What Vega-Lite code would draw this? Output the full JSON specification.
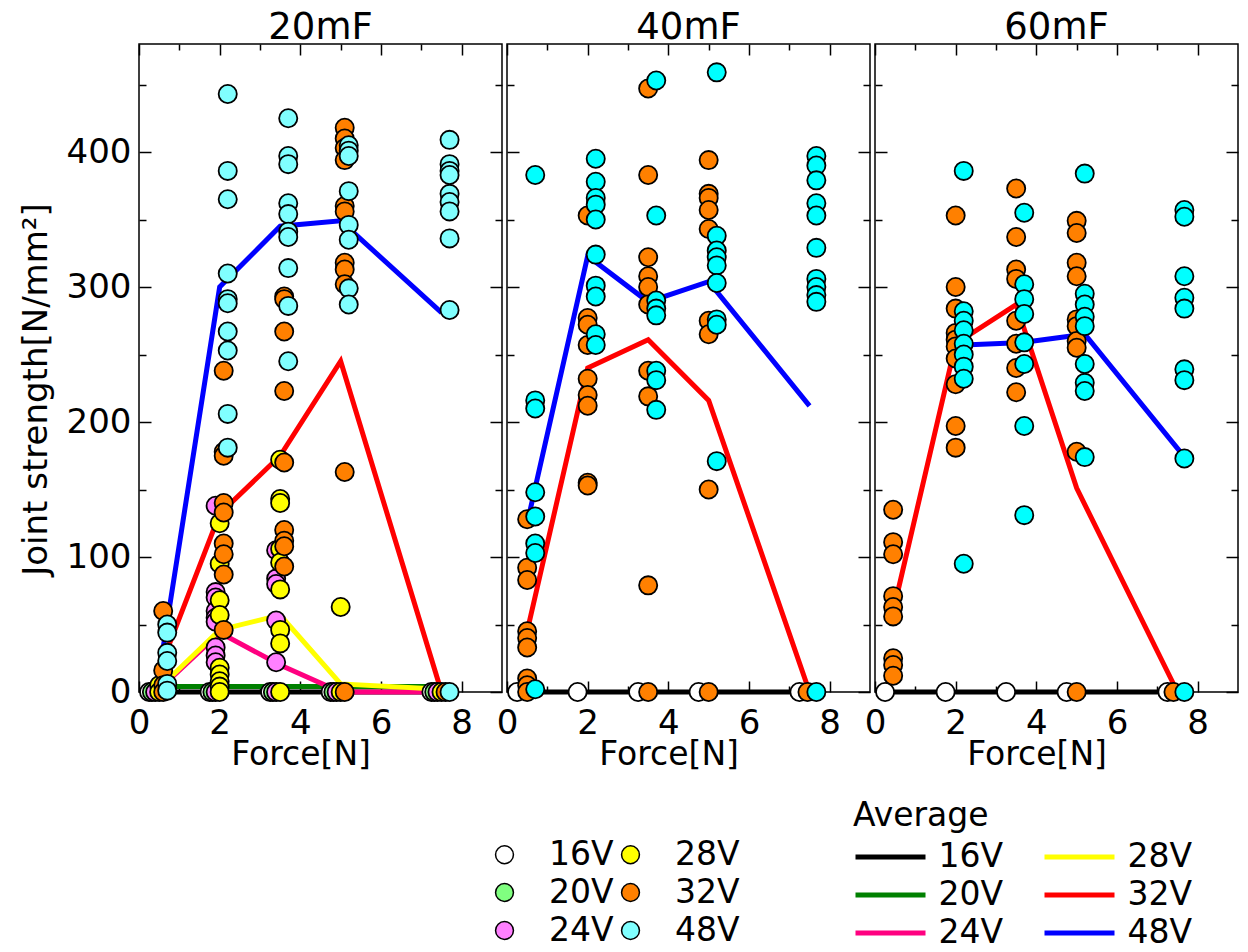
{
  "$schema": "https://vega.github.io/schema/vega-lite/v6.json",
  "padding": {"left": 18, "top": 8, "right": 5, "bottom": 5},
  "bounds": "flush",
  "spacing": 5,
  "datasets": {
    "avg": [
      {"panel":"20mF","voltage":"16V","force":0.25,"strength":0},{"panel":"20mF","voltage":"16V","force":1.75,"strength":0},{"panel":"20mF","voltage":"16V","force":3.25,"strength":0},{"panel":"20mF","voltage":"16V","force":4.75,"strength":0},{"panel":"20mF","voltage":"16V","force":7.25,"strength":0},
      {"panel":"20mF","voltage":"20V","force":0.5,"strength":4},{"panel":"20mF","voltage":"20V","force":2,"strength":4},{"panel":"20mF","voltage":"20V","force":3.5,"strength":4},{"panel":"20mF","voltage":"20V","force":5,"strength":4},{"panel":"20mF","voltage":"20V","force":7.5,"strength":4},
      {"panel":"20mF","voltage":"24V","force":0.5,"strength":2},{"panel":"20mF","voltage":"24V","force":2,"strength":44},{"panel":"20mF","voltage":"24V","force":3.5,"strength":20},{"panel":"20mF","voltage":"24V","force":5,"strength":0},{"panel":"20mF","voltage":"24V","force":7.5,"strength":0},
      {"panel":"20mF","voltage":"28V","force":0.5,"strength":3},{"panel":"20mF","voltage":"28V","force":2,"strength":46},{"panel":"20mF","voltage":"28V","force":3.5,"strength":57},{"panel":"20mF","voltage":"28V","force":5,"strength":6},{"panel":"20mF","voltage":"28V","force":7.5,"strength":2},
      {"panel":"20mF","voltage":"32V","force":0.5,"strength":16},{"panel":"20mF","voltage":"32V","force":2,"strength":132},{"panel":"20mF","voltage":"32V","force":3.5,"strength":175},{"panel":"20mF","voltage":"32V","force":5,"strength":245},{"panel":"20mF","voltage":"32V","force":7.5,"strength":0},
      {"panel":"20mF","voltage":"48V","force":0.5,"strength":14},{"panel":"20mF","voltage":"48V","force":2,"strength":300},{"panel":"20mF","voltage":"48V","force":3.5,"strength":345},{"panel":"20mF","voltage":"48V","force":5,"strength":349},{"panel":"20mF","voltage":"48V","force":7.5,"strength":281},
      {"panel":"40mF","voltage":"16V","force":0.25,"strength":0},{"panel":"40mF","voltage":"16V","force":1.75,"strength":0},{"panel":"40mF","voltage":"16V","force":3.25,"strength":0},{"panel":"40mF","voltage":"16V","force":4.75,"strength":0},{"panel":"40mF","voltage":"16V","force":7.25,"strength":0},
      {"panel":"40mF","voltage":"32V","force":0.5,"strength":45},{"panel":"40mF","voltage":"32V","force":2,"strength":240},{"panel":"40mF","voltage":"32V","force":3.5,"strength":261},{"panel":"40mF","voltage":"32V","force":5,"strength":216},{"panel":"40mF","voltage":"32V","force":7.5,"strength":0},
      {"panel":"40mF","voltage":"48V","force":0.5,"strength":125},{"panel":"40mF","voltage":"48V","force":2,"strength":323},{"panel":"40mF","voltage":"48V","force":3.5,"strength":289},{"panel":"40mF","voltage":"48V","force":5,"strength":304},{"panel":"40mF","voltage":"48V","force":7.5,"strength":212},
      {"panel":"60mF","voltage":"16V","force":0.25,"strength":0},{"panel":"60mF","voltage":"16V","force":1.75,"strength":0},{"panel":"60mF","voltage":"16V","force":3.25,"strength":0},{"panel":"60mF","voltage":"16V","force":4.75,"strength":0},{"panel":"60mF","voltage":"16V","force":7.25,"strength":0},
      {"panel":"60mF","voltage":"32V","force":0.5,"strength":66},{"panel":"60mF","voltage":"32V","force":2,"strength":258},{"panel":"60mF","voltage":"32V","force":3.5,"strength":287},{"panel":"60mF","voltage":"32V","force":5,"strength":151},{"panel":"60mF","voltage":"32V","force":7.5,"strength":0},
      {"panel":"60mF","voltage":"48V","force":2.2,"strength":257},{"panel":"60mF","voltage":"48V","force":3.7,"strength":259},{"panel":"60mF","voltage":"48V","force":5.2,"strength":265},{"panel":"60mF","voltage":"48V","force":7.7,"strength":173}
    ],
    "pts": [
      {"panel":"20mF","volt":"16V","force":0.25,"strength":0},{"panel":"20mF","volt":"16V","force":1.75,"strength":0},{"panel":"20mF","volt":"16V","force":3.25,"strength":0},{"panel":"20mF","volt":"16V","force":4.75,"strength":0},{"panel":"20mF","volt":"16V","force":7.25,"strength":0},
      {"panel":"20mF","volt":"20V","force":0.32,"strength":0},{"panel":"20mF","volt":"20V","force":1.82,"strength":0},{"panel":"20mF","volt":"20V","force":3.32,"strength":0},{"panel":"20mF","volt":"20V","force":4.82,"strength":0},{"panel":"20mF","volt":"20V","force":7.32,"strength":0},
      {"panel":"20mF","volt":"24V","force":0.4,"strength":0},
      {"panel":"20mF","volt":"24V","force":1.9,"strength":138},{"panel":"20mF","volt":"24V","force":1.9,"strength":74},{"panel":"20mF","volt":"24V","force":1.9,"strength":70},{"panel":"20mF","volt":"24V","force":1.9,"strength":60},{"panel":"20mF","volt":"24V","force":1.9,"strength":55},{"panel":"20mF","volt":"24V","force":1.9,"strength":52},{"panel":"20mF","volt":"24V","force":1.9,"strength":33},{"panel":"20mF","volt":"24V","force":1.9,"strength":27},{"panel":"20mF","volt":"24V","force":1.9,"strength":22},{"panel":"20mF","volt":"24V","force":1.9,"strength":0},
      {"panel":"20mF","volt":"24V","force":3.4,"strength":105},{"panel":"20mF","volt":"24V","force":3.4,"strength":84},{"panel":"20mF","volt":"24V","force":3.4,"strength":80},{"panel":"20mF","volt":"24V","force":3.4,"strength":53},{"panel":"20mF","volt":"24V","force":3.4,"strength":22},{"panel":"20mF","volt":"24V","force":3.4,"strength":0},
      {"panel":"20mF","volt":"24V","force":4.9,"strength":0},{"panel":"20mF","volt":"24V","force":7.4,"strength":0},
      {"panel":"20mF","volt":"28V","force":0.5,"strength":5},{"panel":"20mF","volt":"28V","force":0.5,"strength":0},
      {"panel":"20mF","volt":"28V","force":2.0,"strength":125},{"panel":"20mF","volt":"28V","force":2.0,"strength":95},{"panel":"20mF","volt":"28V","force":2.0,"strength":68},{"panel":"20mF","volt":"28V","force":2.0,"strength":57},{"panel":"20mF","volt":"28V","force":2.0,"strength":18},{"panel":"20mF","volt":"28V","force":2.0,"strength":13},{"panel":"20mF","volt":"28V","force":2.0,"strength":8},{"panel":"20mF","volt":"28V","force":2.0,"strength":4},{"panel":"20mF","volt":"28V","force":2.0,"strength":0},
      {"panel":"20mF","volt":"28V","force":3.5,"strength":172},{"panel":"20mF","volt":"28V","force":3.5,"strength":143},{"panel":"20mF","volt":"28V","force":3.5,"strength":140},{"panel":"20mF","volt":"28V","force":3.5,"strength":106},{"panel":"20mF","volt":"28V","force":3.5,"strength":96},{"panel":"20mF","volt":"28V","force":3.5,"strength":76},{"panel":"20mF","volt":"28V","force":3.5,"strength":46},{"panel":"20mF","volt":"28V","force":3.5,"strength":36},{"panel":"20mF","volt":"28V","force":3.5,"strength":0},
      {"panel":"20mF","volt":"28V","force":5.0,"strength":63},{"panel":"20mF","volt":"28V","force":5.0,"strength":0},{"panel":"20mF","volt":"28V","force":7.5,"strength":0},
      {"panel":"20mF","volt":"32V","force":0.6,"strength":60},{"panel":"20mF","volt":"32V","force":0.6,"strength":16},{"panel":"20mF","volt":"32V","force":0.6,"strength":5},{"panel":"20mF","volt":"32V","force":0.6,"strength":0},
      {"panel":"20mF","volt":"32V","force":2.1,"strength":238},{"panel":"20mF","volt":"32V","force":2.1,"strength":178},{"panel":"20mF","volt":"32V","force":2.1,"strength":175},{"panel":"20mF","volt":"32V","force":2.1,"strength":140},{"panel":"20mF","volt":"32V","force":2.1,"strength":133},{"panel":"20mF","volt":"32V","force":2.1,"strength":110},{"panel":"20mF","volt":"32V","force":2.1,"strength":102},{"panel":"20mF","volt":"32V","force":2.1,"strength":87},{"panel":"20mF","volt":"32V","force":2.1,"strength":46},
      {"panel":"20mF","volt":"32V","force":3.6,"strength":293},{"panel":"20mF","volt":"32V","force":3.6,"strength":291},{"panel":"20mF","volt":"32V","force":3.6,"strength":267},{"panel":"20mF","volt":"32V","force":3.6,"strength":223},{"panel":"20mF","volt":"32V","force":3.6,"strength":170},{"panel":"20mF","volt":"32V","force":3.6,"strength":120},{"panel":"20mF","volt":"32V","force":3.6,"strength":112},{"panel":"20mF","volt":"32V","force":3.6,"strength":108},{"panel":"20mF","volt":"32V","force":3.6,"strength":93},
      {"panel":"20mF","volt":"32V","force":5.1,"strength":418},{"panel":"20mF","volt":"32V","force":5.1,"strength":410},{"panel":"20mF","volt":"32V","force":5.1,"strength":403},{"panel":"20mF","volt":"32V","force":5.1,"strength":394},{"panel":"20mF","volt":"32V","force":5.1,"strength":360},{"panel":"20mF","volt":"32V","force":5.1,"strength":356},{"panel":"20mF","volt":"32V","force":5.1,"strength":318},{"panel":"20mF","volt":"32V","force":5.1,"strength":313},{"panel":"20mF","volt":"32V","force":5.1,"strength":302},{"panel":"20mF","volt":"32V","force":5.1,"strength":163},{"panel":"20mF","volt":"32V","force":5.1,"strength":0},
      {"panel":"20mF","volt":"32V","force":7.6,"strength":0},
      {"panel":"20mF","volt":"48V","force":0.7,"strength":50},{"panel":"20mF","volt":"48V","force":0.7,"strength":44},{"panel":"20mF","volt":"48V","force":0.7,"strength":29},{"panel":"20mF","volt":"48V","force":0.7,"strength":23},{"panel":"20mF","volt":"48V","force":0.7,"strength":6},{"panel":"20mF","volt":"48V","force":0.7,"strength":1},
      {"panel":"20mF","volt":"48V","force":2.2,"strength":443},{"panel":"20mF","volt":"48V","force":2.2,"strength":386},{"panel":"20mF","volt":"48V","force":2.2,"strength":365},{"panel":"20mF","volt":"48V","force":2.2,"strength":310},{"panel":"20mF","volt":"48V","force":2.2,"strength":291},{"panel":"20mF","volt":"48V","force":2.2,"strength":288},{"panel":"20mF","volt":"48V","force":2.2,"strength":267},{"panel":"20mF","volt":"48V","force":2.2,"strength":253},{"panel":"20mF","volt":"48V","force":2.2,"strength":206},{"panel":"20mF","volt":"48V","force":2.2,"strength":181},
      {"panel":"20mF","volt":"48V","force":3.7,"strength":425},{"panel":"20mF","volt":"48V","force":3.7,"strength":397},{"panel":"20mF","volt":"48V","force":3.7,"strength":391},{"panel":"20mF","volt":"48V","force":3.7,"strength":362},{"panel":"20mF","volt":"48V","force":3.7,"strength":354},{"panel":"20mF","volt":"48V","force":3.7,"strength":341},{"panel":"20mF","volt":"48V","force":3.7,"strength":337},{"panel":"20mF","volt":"48V","force":3.7,"strength":314},{"panel":"20mF","volt":"48V","force":3.7,"strength":286},{"panel":"20mF","volt":"48V","force":3.7,"strength":245},
      {"panel":"20mF","volt":"48V","force":5.2,"strength":405},{"panel":"20mF","volt":"48V","force":5.2,"strength":401},{"panel":"20mF","volt":"48V","force":5.2,"strength":397},{"panel":"20mF","volt":"48V","force":5.2,"strength":371},{"panel":"20mF","volt":"48V","force":5.2,"strength":346},{"panel":"20mF","volt":"48V","force":5.2,"strength":335},{"panel":"20mF","volt":"48V","force":5.2,"strength":299},{"panel":"20mF","volt":"48V","force":5.2,"strength":287},
      {"panel":"20mF","volt":"48V","force":7.7,"strength":409},{"panel":"20mF","volt":"48V","force":7.7,"strength":391},{"panel":"20mF","volt":"48V","force":7.7,"strength":386},{"panel":"20mF","volt":"48V","force":7.7,"strength":383},{"panel":"20mF","volt":"48V","force":7.7,"strength":369},{"panel":"20mF","volt":"48V","force":7.7,"strength":363},{"panel":"20mF","volt":"48V","force":7.7,"strength":356},{"panel":"20mF","volt":"48V","force":7.7,"strength":336},{"panel":"20mF","volt":"48V","force":7.7,"strength":283},{"panel":"20mF","volt":"48V","force":7.7,"strength":0},

      {"panel":"40mF","volt":"16V","force":0.25,"strength":0},{"panel":"40mF","volt":"16V","force":1.75,"strength":0},{"panel":"40mF","volt":"16V","force":3.25,"strength":0},{"panel":"40mF","volt":"16V","force":4.75,"strength":0},{"panel":"40mF","volt":"16V","force":7.25,"strength":0},
      {"panel":"40mF","volt":"32V","force":0.5,"strength":128},{"panel":"40mF","volt":"32V","force":0.5,"strength":92},{"panel":"40mF","volt":"32V","force":0.5,"strength":83},{"panel":"40mF","volt":"32V","force":0.5,"strength":45},{"panel":"40mF","volt":"32V","force":0.5,"strength":40},{"panel":"40mF","volt":"32V","force":0.5,"strength":33},{"panel":"40mF","volt":"32V","force":0.5,"strength":10},{"panel":"40mF","volt":"32V","force":0.5,"strength":5},{"panel":"40mF","volt":"32V","force":0.5,"strength":0},
      {"panel":"40mF","volt":"32V","force":2.0,"strength":353},{"panel":"40mF","volt":"32V","force":2.0,"strength":277},{"panel":"40mF","volt":"32V","force":2.0,"strength":272},{"panel":"40mF","volt":"32V","force":2.0,"strength":257},{"panel":"40mF","volt":"32V","force":2.0,"strength":232},{"panel":"40mF","volt":"32V","force":2.0,"strength":220},{"panel":"40mF","volt":"32V","force":2.0,"strength":212},{"panel":"40mF","volt":"32V","force":2.0,"strength":155},{"panel":"40mF","volt":"32V","force":2.0,"strength":153},
      {"panel":"40mF","volt":"32V","force":3.5,"strength":447},{"panel":"40mF","volt":"32V","force":3.5,"strength":383},{"panel":"40mF","volt":"32V","force":3.5,"strength":322},{"panel":"40mF","volt":"32V","force":3.5,"strength":308},{"panel":"40mF","volt":"32V","force":3.5,"strength":300},{"panel":"40mF","volt":"32V","force":3.5,"strength":287},{"panel":"40mF","volt":"32V","force":3.5,"strength":238},{"panel":"40mF","volt":"32V","force":3.5,"strength":219},{"panel":"40mF","volt":"32V","force":3.5,"strength":79},{"panel":"40mF","volt":"32V","force":3.5,"strength":0},
      {"panel":"40mF","volt":"32V","force":5.0,"strength":394},{"panel":"40mF","volt":"32V","force":5.0,"strength":369},{"panel":"40mF","volt":"32V","force":5.0,"strength":366},{"panel":"40mF","volt":"32V","force":5.0,"strength":357},{"panel":"40mF","volt":"32V","force":5.0,"strength":343},{"panel":"40mF","volt":"32V","force":5.0,"strength":275},{"panel":"40mF","volt":"32V","force":5.0,"strength":265},{"panel":"40mF","volt":"32V","force":5.0,"strength":150},{"panel":"40mF","volt":"32V","force":5.0,"strength":0},
      {"panel":"40mF","volt":"32V","force":7.45,"strength":0},
      {"panel":"40mF","volt":"48V","force":0.7,"strength":383},{"panel":"40mF","volt":"48V","force":0.7,"strength":216},{"panel":"40mF","volt":"48V","force":0.7,"strength":210},{"panel":"40mF","volt":"48V","force":0.7,"strength":148},{"panel":"40mF","volt":"48V","force":0.7,"strength":130},{"panel":"40mF","volt":"48V","force":0.7,"strength":110},{"panel":"40mF","volt":"48V","force":0.7,"strength":103},{"panel":"40mF","volt":"48V","force":0.7,"strength":2},
      {"panel":"40mF","volt":"48V","force":2.2,"strength":395},{"panel":"40mF","volt":"48V","force":2.2,"strength":378},{"panel":"40mF","volt":"48V","force":2.2,"strength":366},{"panel":"40mF","volt":"48V","force":2.2,"strength":361},{"panel":"40mF","volt":"48V","force":2.2,"strength":350},{"panel":"40mF","volt":"48V","force":2.2,"strength":324},{"panel":"40mF","volt":"48V","force":2.2,"strength":301},{"panel":"40mF","volt":"48V","force":2.2,"strength":293},{"panel":"40mF","volt":"48V","force":2.2,"strength":265},{"panel":"40mF","volt":"48V","force":2.2,"strength":257},
      {"panel":"40mF","volt":"48V","force":3.7,"strength":453},{"panel":"40mF","volt":"48V","force":3.7,"strength":353},{"panel":"40mF","volt":"48V","force":3.7,"strength":290},{"panel":"40mF","volt":"48V","force":3.7,"strength":284},{"panel":"40mF","volt":"48V","force":3.7,"strength":279},{"panel":"40mF","volt":"48V","force":3.7,"strength":238},{"panel":"40mF","volt":"48V","force":3.7,"strength":231},{"panel":"40mF","volt":"48V","force":3.7,"strength":209},
      {"panel":"40mF","volt":"48V","force":5.2,"strength":459},{"panel":"40mF","volt":"48V","force":5.2,"strength":338},{"panel":"40mF","volt":"48V","force":5.2,"strength":327},{"panel":"40mF","volt":"48V","force":5.2,"strength":322},{"panel":"40mF","volt":"48V","force":5.2,"strength":316},{"panel":"40mF","volt":"48V","force":5.2,"strength":303},{"panel":"40mF","volt":"48V","force":5.2,"strength":276},{"panel":"40mF","volt":"48V","force":5.2,"strength":272},{"panel":"40mF","volt":"48V","force":5.2,"strength":171},
      {"panel":"40mF","volt":"48V","force":7.67,"strength":397},{"panel":"40mF","volt":"48V","force":7.67,"strength":390},{"panel":"40mF","volt":"48V","force":7.67,"strength":379},{"panel":"40mF","volt":"48V","force":7.67,"strength":362},{"panel":"40mF","volt":"48V","force":7.67,"strength":353},{"panel":"40mF","volt":"48V","force":7.67,"strength":329},{"panel":"40mF","volt":"48V","force":7.67,"strength":306},{"panel":"40mF","volt":"48V","force":7.67,"strength":300},{"panel":"40mF","volt":"48V","force":7.67,"strength":294},{"panel":"40mF","volt":"48V","force":7.67,"strength":289},{"panel":"40mF","volt":"48V","force":7.67,"strength":0},

      {"panel":"60mF","volt":"16V","force":0.25,"strength":0},{"panel":"60mF","volt":"16V","force":1.75,"strength":0},{"panel":"60mF","volt":"16V","force":3.25,"strength":0},{"panel":"60mF","volt":"16V","force":4.75,"strength":0},{"panel":"60mF","volt":"16V","force":7.25,"strength":0},
      {"panel":"60mF","volt":"32V","force":0.45,"strength":135},{"panel":"60mF","volt":"32V","force":0.45,"strength":111},{"panel":"60mF","volt":"32V","force":0.45,"strength":102},{"panel":"60mF","volt":"32V","force":0.45,"strength":71},{"panel":"60mF","volt":"32V","force":0.45,"strength":63},{"panel":"60mF","volt":"32V","force":0.45,"strength":56},{"panel":"60mF","volt":"32V","force":0.45,"strength":25},{"panel":"60mF","volt":"32V","force":0.45,"strength":20},{"panel":"60mF","volt":"32V","force":0.45,"strength":12},
      {"panel":"60mF","volt":"32V","force":2.0,"strength":353},{"panel":"60mF","volt":"32V","force":2.0,"strength":300},{"panel":"60mF","volt":"32V","force":2.0,"strength":284},{"panel":"60mF","volt":"32V","force":2.0,"strength":266},{"panel":"60mF","volt":"32V","force":2.0,"strength":261},{"panel":"60mF","volt":"32V","force":2.0,"strength":256},{"panel":"60mF","volt":"32V","force":2.0,"strength":247},{"panel":"60mF","volt":"32V","force":2.0,"strength":228},{"panel":"60mF","volt":"32V","force":2.0,"strength":197},{"panel":"60mF","volt":"32V","force":2.0,"strength":181},
      {"panel":"60mF","volt":"32V","force":3.5,"strength":373},{"panel":"60mF","volt":"32V","force":3.5,"strength":337},{"panel":"60mF","volt":"32V","force":3.5,"strength":313},{"panel":"60mF","volt":"32V","force":3.5,"strength":306},{"panel":"60mF","volt":"32V","force":3.5,"strength":275},{"panel":"60mF","volt":"32V","force":3.5,"strength":258},{"panel":"60mF","volt":"32V","force":3.5,"strength":240},{"panel":"60mF","volt":"32V","force":3.5,"strength":222},
      {"panel":"60mF","volt":"32V","force":5.0,"strength":349},{"panel":"60mF","volt":"32V","force":5.0,"strength":340},{"panel":"60mF","volt":"32V","force":5.0,"strength":318},{"panel":"60mF","volt":"32V","force":5.0,"strength":308},{"panel":"60mF","volt":"32V","force":5.0,"strength":276},{"panel":"60mF","volt":"32V","force":5.0,"strength":271},{"panel":"60mF","volt":"32V","force":5.0,"strength":260},{"panel":"60mF","volt":"32V","force":5.0,"strength":255},{"panel":"60mF","volt":"32V","force":5.0,"strength":178},{"panel":"60mF","volt":"32V","force":5.0,"strength":0},
      {"panel":"60mF","volt":"32V","force":7.4,"strength":0},
      {"panel":"60mF","volt":"48V","force":2.2,"strength":386},{"panel":"60mF","volt":"48V","force":2.2,"strength":282},{"panel":"60mF","volt":"48V","force":2.2,"strength":275},{"panel":"60mF","volt":"48V","force":2.2,"strength":268},{"panel":"60mF","volt":"48V","force":2.2,"strength":258},{"panel":"60mF","volt":"48V","force":2.2,"strength":250},{"panel":"60mF","volt":"48V","force":2.2,"strength":241},{"panel":"60mF","volt":"48V","force":2.2,"strength":232},{"panel":"60mF","volt":"48V","force":2.2,"strength":95},
      {"panel":"60mF","volt":"48V","force":3.7,"strength":355},{"panel":"60mF","volt":"48V","force":3.7,"strength":302},{"panel":"60mF","volt":"48V","force":3.7,"strength":291},{"panel":"60mF","volt":"48V","force":3.7,"strength":280},{"panel":"60mF","volt":"48V","force":3.7,"strength":259},{"panel":"60mF","volt":"48V","force":3.7,"strength":243},{"panel":"60mF","volt":"48V","force":3.7,"strength":197},{"panel":"60mF","volt":"48V","force":3.7,"strength":131},
      {"panel":"60mF","volt":"48V","force":5.2,"strength":384},{"panel":"60mF","volt":"48V","force":5.2,"strength":295},{"panel":"60mF","volt":"48V","force":5.2,"strength":287},{"panel":"60mF","volt":"48V","force":5.2,"strength":278},{"panel":"60mF","volt":"48V","force":5.2,"strength":271},{"panel":"60mF","volt":"48V","force":5.2,"strength":243},{"panel":"60mF","volt":"48V","force":5.2,"strength":229},{"panel":"60mF","volt":"48V","force":5.2,"strength":223},{"panel":"60mF","volt":"48V","force":5.2,"strength":174},
      {"panel":"60mF","volt":"48V","force":7.67,"strength":357},{"panel":"60mF","volt":"48V","force":7.67,"strength":352},{"panel":"60mF","volt":"48V","force":7.67,"strength":308},{"panel":"60mF","volt":"48V","force":7.67,"strength":292},{"panel":"60mF","volt":"48V","force":7.67,"strength":284},{"panel":"60mF","volt":"48V","force":7.67,"strength":239},{"panel":"60mF","volt":"48V","force":7.67,"strength":231},{"panel":"60mF","volt":"48V","force":7.67,"strength":173},{"panel":"60mF","volt":"48V","force":7.67,"strength":0}
    ]
  },
  "hconcat": [
    {
      "width": 363, "height": 648,
      "title": {"text": "20mF", "frame": "group", "baseline": "alphabetic", "offset": -33},
      "layer": [
        {
          "data": {"name": "avg"},
          "transform": [{"filter": "datum.panel === '20mF'"}],
          "mark": {"type": "line", "strokeWidth": 5},
          "encoding": {
            "x": {"field": "force", "type": "quantitative", "scale": {"domain": [0, 9], "nice": false, "zero": false},
              "axis": {"orient": "bottom", "values": [0,1,2,3,4,5,6,7,8], "labelExpr": "datum.value % 2 === 0 ? datum.label : ''", "tickSize": {"condition": {"test": "datum.value % 2 === 0", "value": -11}, "value": -6}, "labelPadding": 52, "labelBaseline": "alphabetic", "title": "Force[N]", "titleFontSize": 33, "titleX": 161.6, "titleY": 72, "titleBaseline": "alphabetic", "titleAlign": "center"}},
            "y": {"field": "strength", "type": "quantitative", "scale": {"domain": [0, 480], "nice": false},
              "axis": {"orient": "left", "values": [0,50,100,150,200,250,300,350,400,450], "labelExpr": "datum.value % 100 === 0 ? datum.label : ''", "tickSize": {"condition": {"test": "datum.value % 100 === 0", "value": -12}, "value": -7}, "labelPadding": 20, "title": "Joint strength[N/mm²]", "titleFontSize": 34, "titleX": -93, "titleY": 345, "titleBaseline": "alphabetic", "titleAlign": "center", "titleAngle": -90}},
            "stroke": {"field": "voltage", "type": "nominal", "scale": {"domain": ["48V","32V","28V","24V","20V","16V"], "range": ["#0000ff","#ff0000","#ffff00","#ff0080","#008000","#000000"]},
              "legend": {"orient": "none", "legendX": 714, "legendY": 756, "columns": 2, "values": ["16V","20V","24V","28V","32V","48V"], "title": "Average", "titleFontSize": 33, "titleFontWeight": "normal", "titlePadding": 4, "symbolType": "M-2,0H2", "symbolSize": 1225, "symbolStrokeWidth": 5, "symbolOffset": 17.5, "labelOffset": 28, "labelFontSize": 33, "columnPadding": 30, "rowPadding": 1}}
          }
        },
        {
          "data": {"name": "pts"},
          "transform": [{"filter": "datum.panel === '20mF'"}],
          "mark": {"type": "circle", "size": 330, "opacity": 1, "stroke": "black", "strokeWidth": 1.8},
          "encoding": {
            "x": {"field": "force", "type": "quantitative", "scale": {"domain": [0, 9], "nice": false, "zero": false},
              "axis": {"orient": "top", "values": [0,1,2,3,4,5,6,7,8], "labels": false, "title": null, "tickSize": {"condition": {"test": "datum.value % 2 === 0", "value": -11}, "value": -6}}},
            "y": {"field": "strength", "type": "quantitative", "scale": {"domain": [0, 480], "nice": false},
              "axis": {"orient": "right", "values": [0,50,100,150,200,250,300,350,400,450], "labels": false, "title": null, "tickSize": {"condition": {"test": "datum.value % 100 === 0", "value": -12}, "value": -7}}},
            "fill": {"field": "volt", "type": "nominal", "scale": {"domain": ["16V","20V","24V","28V","32V","48V"], "range": ["#ffffff","#80ff80","#ff80ff","#ffff00","#ff8000","#80ffff"]},
              "legend": {"orient": "none", "legendX": 349, "legendY": 794, "columns": 2, "title": null, "symbolType": "circle", "symbolSize": 320, "symbolStrokeColor": "black", "symbolStrokeWidth": 1.5, "labelFontSize": 33, "labelOffset": 28, "columnPadding": -29, "rowPadding": 4}}
          }
        }
      ],
      "resolve": {"axis": {"x": "independent", "y": "independent"}}
    },
    {
      "width": 363, "height": 648,
      "title": {"text": "40mF", "frame": "group", "baseline": "alphabetic", "offset": -33},
      "layer": [
        {
          "data": {"name": "avg"},
          "transform": [{"filter": "datum.panel === '40mF'"}],
          "mark": {"type": "line", "strokeWidth": 5},
          "encoding": {
            "x": {"field": "force", "type": "quantitative", "scale": {"domain": [0, 9], "nice": false, "zero": false},
              "axis": {"orient": "bottom", "values": [0,1,2,3,4,5,6,7,8], "labelExpr": "datum.value % 2 === 0 ? datum.label : ''", "tickSize": {"condition": {"test": "datum.value % 2 === 0", "value": -11}, "value": -6}, "labelPadding": 52, "labelBaseline": "alphabetic", "title": "Force[N]", "titleFontSize": 33, "titleX": 161.6, "titleY": 72, "titleBaseline": "alphabetic", "titleAlign": "center"}},
            "y": {"field": "strength", "type": "quantitative", "scale": {"domain": [0, 480], "nice": false},
              "axis": {"orient": "left", "values": [0,50,100,150,200,250,300,350,400,450], "labels": false, "title": null, "tickSize": {"condition": {"test": "datum.value % 100 === 0", "value": -12}, "value": -7}}},
            "stroke": {"field": "voltage", "type": "nominal", "scale": {"domain": ["48V","32V","28V","24V","20V","16V"], "range": ["#0000ff","#ff0000","#ffff00","#ff0080","#008000","#000000"]},
              "legend": {"orient": "none", "legendX": 714, "legendY": 756, "columns": 2, "values": ["16V","20V","24V","28V","32V","48V"], "title": "Average", "titleFontSize": 33, "titleFontWeight": "normal", "titlePadding": 4, "symbolType": "M-2,0H2", "symbolSize": 1225, "symbolStrokeWidth": 5, "symbolOffset": 17.5, "labelOffset": 28, "labelFontSize": 33, "columnPadding": 30, "rowPadding": 1}}
          }
        },
        {
          "data": {"name": "pts"},
          "transform": [{"filter": "datum.panel === '40mF'"}],
          "mark": {"type": "circle", "size": 330, "opacity": 1, "stroke": "black", "strokeWidth": 1.8},
          "encoding": {
            "x": {"field": "force", "type": "quantitative", "scale": {"domain": [0, 9], "nice": false, "zero": false},
              "axis": {"orient": "top", "values": [0,1,2,3,4,5,6,7,8], "labels": false, "title": null, "tickSize": {"condition": {"test": "datum.value % 2 === 0", "value": -11}, "value": -6}}},
            "y": {"field": "strength", "type": "quantitative", "scale": {"domain": [0, 480], "nice": false},
              "axis": {"orient": "right", "values": [0,50,100,150,200,250,300,350,400,450], "labels": false, "title": null, "tickSize": {"condition": {"test": "datum.value % 100 === 0", "value": -12}, "value": -7}}},
            "fill": {"condition": {"test": "datum.volt === '48V'", "value": "#00ffff"}, "field": "volt", "type": "nominal", "scale": {"domain": ["16V","20V","24V","28V","32V","48V"], "range": ["#ffffff","#80ff80","#ff80ff","#ffff00","#ff8000","#80ffff"]},
              "legend": {"orient": "none", "legendX": 349, "legendY": 794, "columns": 2, "title": null, "symbolType": "circle", "symbolSize": 320, "symbolStrokeColor": "black", "symbolStrokeWidth": 1.5, "labelFontSize": 33, "labelOffset": 28, "columnPadding": -29, "rowPadding": 4}}
          }
        }
      ],
      "resolve": {"axis": {"x": "independent", "y": "independent"}}
    },
    {
      "width": 363, "height": 648,
      "title": {"text": "60mF", "frame": "group", "baseline": "alphabetic", "offset": -33},
      "layer": [
        {
          "data": {"name": "avg"},
          "transform": [{"filter": "datum.panel === '60mF'"}],
          "mark": {"type": "line", "strokeWidth": 5},
          "encoding": {
            "x": {"field": "force", "type": "quantitative", "scale": {"domain": [0, 9], "nice": false, "zero": false},
              "axis": {"orient": "bottom", "values": [0,1,2,3,4,5,6,7,8], "labelExpr": "datum.value % 2 === 0 ? datum.label : ''", "tickSize": {"condition": {"test": "datum.value % 2 === 0", "value": -11}, "value": -6}, "labelPadding": 52, "labelBaseline": "alphabetic", "title": "Force[N]", "titleFontSize": 33, "titleX": 161.6, "titleY": 72, "titleBaseline": "alphabetic", "titleAlign": "center"}},
            "y": {"field": "strength", "type": "quantitative", "scale": {"domain": [0, 480], "nice": false},
              "axis": {"orient": "left", "values": [0,50,100,150,200,250,300,350,400,450], "labels": false, "title": null, "tickSize": {"condition": {"test": "datum.value % 100 === 0", "value": -12}, "value": -7}}},
            "stroke": {"field": "voltage", "type": "nominal", "scale": {"domain": ["48V","32V","28V","24V","20V","16V"], "range": ["#0000ff","#ff0000","#ffff00","#ff0080","#008000","#000000"]},
              "legend": {"orient": "none", "legendX": 714, "legendY": 756, "columns": 2, "values": ["16V","20V","24V","28V","32V","48V"], "title": "Average", "titleFontSize": 33, "titleFontWeight": "normal", "titlePadding": 4, "symbolType": "M-2,0H2", "symbolSize": 1225, "symbolStrokeWidth": 5, "symbolOffset": 17.5, "labelOffset": 28, "labelFontSize": 33, "columnPadding": 30, "rowPadding": 1}}
          }
        },
        {
          "data": {"name": "pts"},
          "transform": [{"filter": "datum.panel === '60mF'"}],
          "mark": {"type": "circle", "size": 330, "opacity": 1, "stroke": "black", "strokeWidth": 1.8},
          "encoding": {
            "x": {"field": "force", "type": "quantitative", "scale": {"domain": [0, 9], "nice": false, "zero": false},
              "axis": {"orient": "top", "values": [0,1,2,3,4,5,6,7,8], "labels": false, "title": null, "tickSize": {"condition": {"test": "datum.value % 2 === 0", "value": -11}, "value": -6}}},
            "y": {"field": "strength", "type": "quantitative", "scale": {"domain": [0, 480], "nice": false},
              "axis": {"orient": "right", "values": [0,50,100,150,200,250,300,350,400,450], "labels": false, "title": null, "tickSize": {"condition": {"test": "datum.value % 100 === 0", "value": -12}, "value": -7}}},
            "fill": {"condition": {"test": "datum.volt === '48V'", "value": "#00ffff"}, "field": "volt", "type": "nominal", "scale": {"domain": ["16V","20V","24V","28V","32V","48V"], "range": ["#ffffff","#80ff80","#ff80ff","#ffff00","#ff8000","#80ffff"]},
              "legend": {"orient": "none", "legendX": 349, "legendY": 794, "columns": 2, "title": null, "symbolType": "circle", "symbolSize": 320, "symbolStrokeColor": "black", "symbolStrokeWidth": 1.5, "labelFontSize": 33, "labelOffset": 28, "columnPadding": -29, "rowPadding": 4}}
          }
        }
      ],
      "resolve": {"axis": {"x": "independent", "y": "independent"}}
    }
  ],
  "config": {
    "font": "DejaVu Sans",
    "view": {"stroke": "black", "strokeWidth": 1.5},
    "axis": {"grid": false, "domain": false, "tickColor": "black", "tickWidth": 1.5, "labelColor": "black", "titleColor": "black", "labelFontSize": 34, "titleFontSize": 34, "titleFontWeight": "normal", "labelFont": "DejaVu Sans", "titleFont": "DejaVu Sans", "labelFlush": false, "labelOverlap": false},
    "legend": {"labelFont": "DejaVu Sans", "titleFont": "DejaVu Sans", "labelColor": "black", "titleColor": "black"},
    "title": {"font": "DejaVu Sans", "fontSize": 37, "fontWeight": "normal", "color": "black"}
  }
}
